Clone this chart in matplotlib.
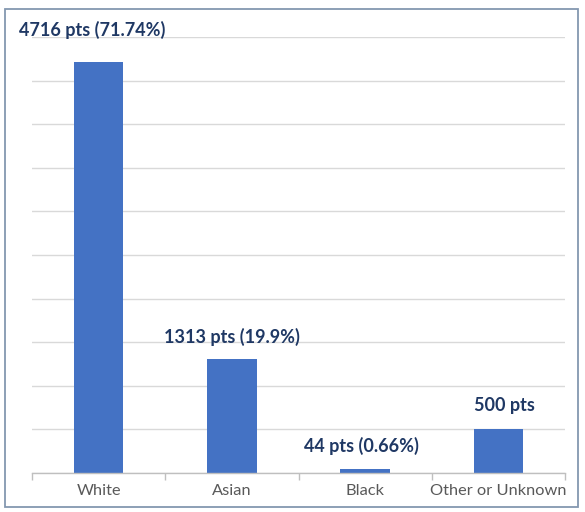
import matplotlib
matplotlib.use("Agg")
import matplotlib.pyplot as plt
from matplotlib.patches import Rectangle

categories = ["White", "Asian", "Black", "Other or Unknown"]
values = [4716, 1313, 44, 500]
labels = ["4716 pts (71.74%)", "1313 pts (19.9%)", "44 pts (0.66%)", "500 pts"]

# label offsets in points (dx, dy) from bar top
label_offsets = [(-4.5, 23), (0, 15.5), (-3, 17), (4.5, 17)]

W, H = 585, 512
fig = plt.figure(figsize=(W / 100, H / 100), dpi=100)
fig.patch.set_facecolor("white")

left, right, base, top = 32, 565, 473, 37
ax = fig.add_axes([left / W, (H - base) / H, (right - left) / W, (base - top) / H])

bar_color = "#4472C4"
ax.bar(range(len(categories)), values, width=0.37, color=bar_color, zorder=2)

ax.set_xlim(-0.5, len(categories) - 0.5)
ax.set_ylim(0, 5000)
ax.set_yticks(range(0, 5001, 500))
ax.yaxis.grid(True, color="#D9D9D9", linewidth=1.0, zorder=0)
ax.set_axisbelow(True)
ax.tick_params(axis="y", length=0, labelleft=False)

ax.set_xticks(range(len(categories)))
ax.set_xticklabels(categories, fontsize=11.8, color="#595959", family="Lato")
ax.tick_params(axis="x", which="major", length=0, pad=8)
ax.set_xticks([i - 0.5 for i in range(len(categories) + 1)], minor=True)
ax.tick_params(axis="x", which="minor", length=5, color="#BFBFBF", width=1)

for s in ["left", "right", "top"]:
    ax.spines[s].set_visible(False)
ax.spines["bottom"].set_color("#BFBFBF")
ax.spines["bottom"].set_linewidth(1.0)

for i, (v, lab) in enumerate(zip(values, labels)):
    dx, dy = label_offsets[i]
    ax.annotate(lab, xy=(i, v), xytext=(dx, dy), textcoords="offset points",
                ha="center", va="center", fontsize=13, fontweight="bold",
                color="#1F3864", family="Lato", annotation_clip=False, zorder=3)

fig.add_artist(Rectangle((5 / W, 5 / H), (578 - 5) / W, (503 - 5) / H,
                         transform=fig.transFigure, fill=False,
                         edgecolor="#8497B0", linewidth=1.3))

fig.savefig("out.png", dpi=100)
